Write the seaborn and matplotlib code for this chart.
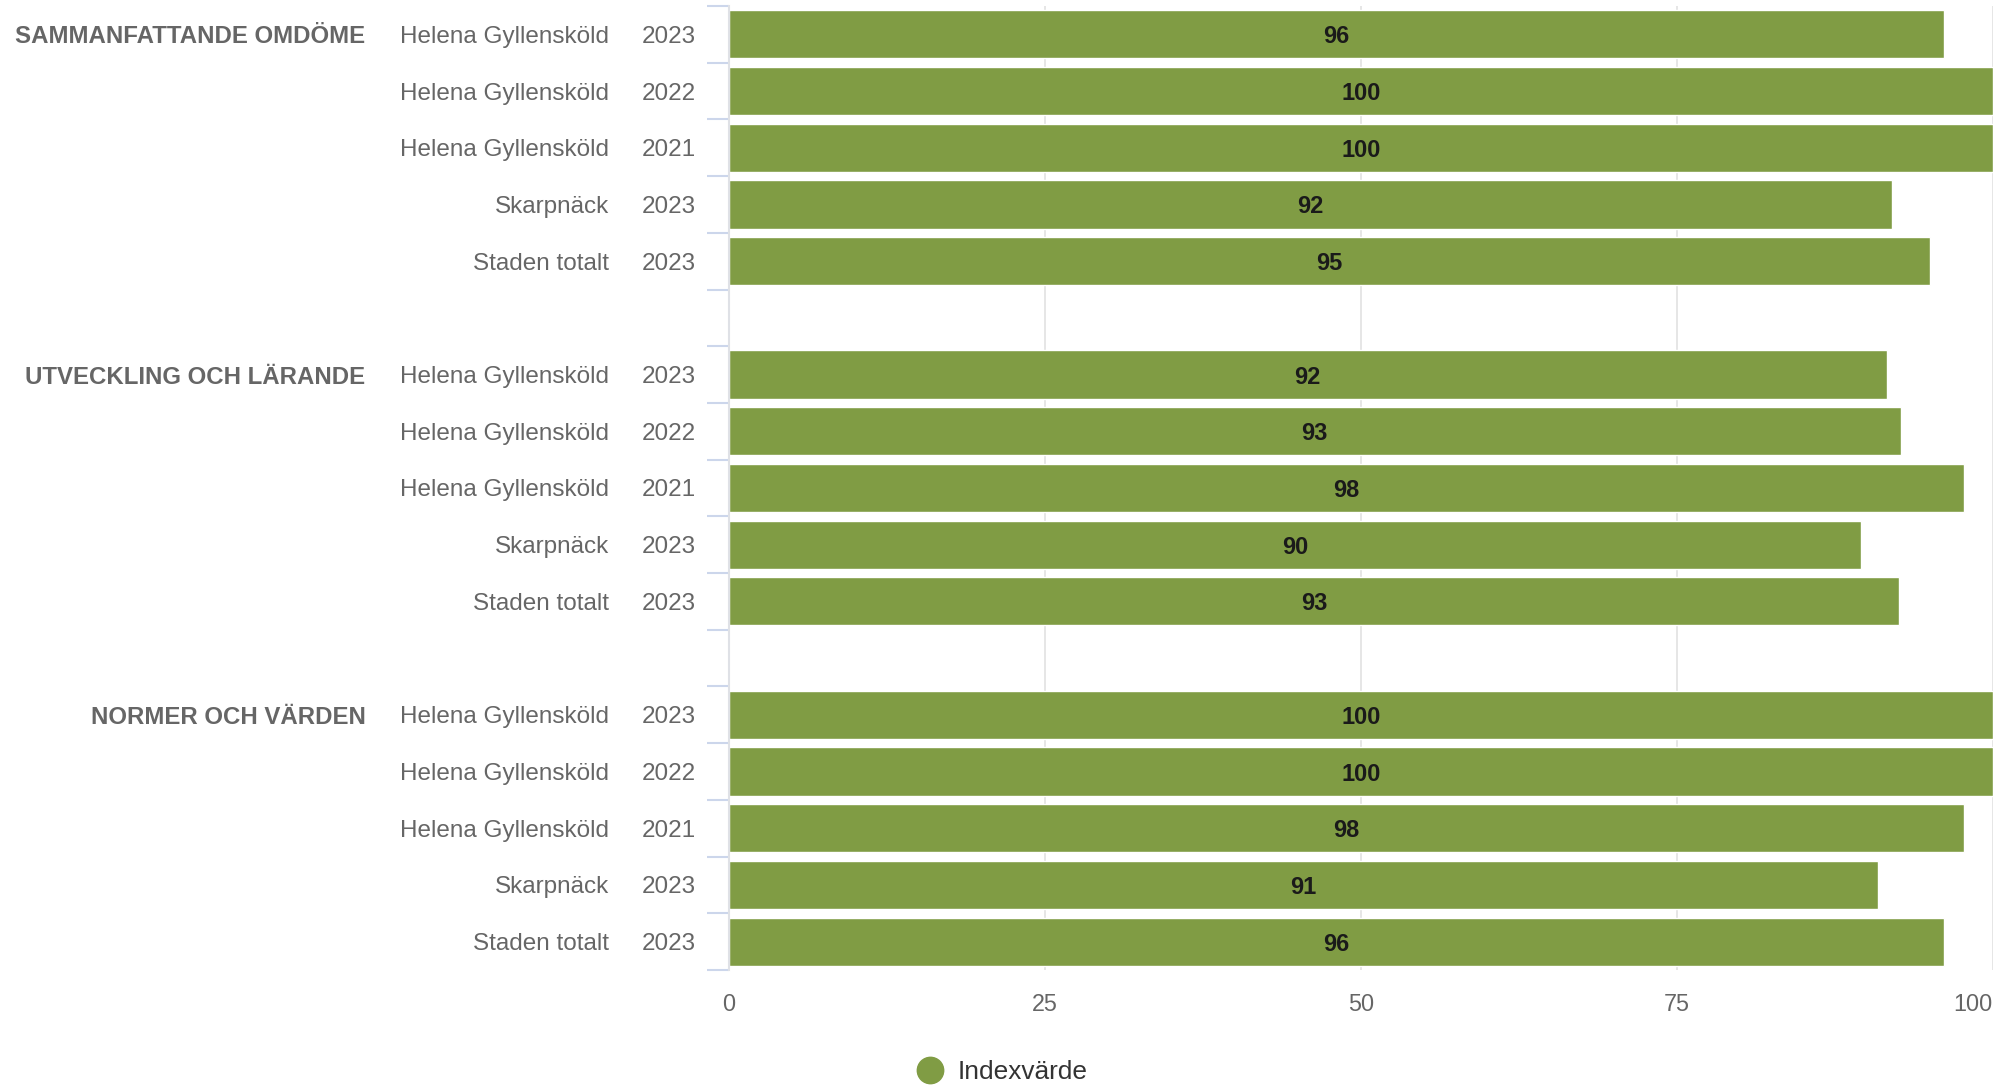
import numpy as np
import pandas as pd
import matplotlib
matplotlib.use("Agg")
import matplotlib.pyplot as plt
from matplotlib.lines import Line2D
import seaborn as sns

groups = ["SAMMANFATTANDE OMDÖME", "UTVECKLING OCH LÄRANDE", "NORMER OCH VÄRDEN"]
names = ["Helena Gyllensköld", "Helena Gyllensköld", "Helena Gyllensköld", "Skarpnäck", "Staden totalt"]
years = ["2023", "2022", "2021", "2023", "2023"]
values_sammanfattande = [96.1, 100, 100, 92.0, 95.0]
values_utveckling = [91.6, 92.7, 97.7, 89.6, 92.6]
values_normer = [100, 100, 97.7, 90.9, 96.1]
series_name = "Indexvärde"

bar_color = "#809c44"
text_gray = "#666666"

sns.set_style("white")
plt.rcParams["font.family"] = ["Liberation Sans", "DejaVu Sans"]

# build rows, with an empty spacer row between groups
rows = []
order = []
all_values = [values_sammanfattande, values_utveckling, values_normer]
for g, (grp, vals) in enumerate(zip(groups, all_values)):
    for i in range(len(names)):
        key = f"{g}-{i}"
        order.append(key)
        rows.append({"row": key, "group": grp if i == 0 else "", "name": names[i],
                     "year": years[i], "value": vals[i]})
    if g < len(groups) - 1:
        order.append(f"gap{g}")
df = pd.DataFrame(rows)

fig = plt.figure(figsize=(20.13, 10.89), dpi=100)
ax = fig.add_axes([0.3621, 0.1093, 0.6279, 0.8852])

sns.barplot(data=df, x="value", y="row", order=order, color=bar_color,
            width=0.85, orient="h", saturation=1, edgecolor="white",
            linewidth=1, ax=ax)

ax.set_xlim(0, 100)
ax.set_ylim(len(order) - 0.5, -0.5)
ax.set_xlabel("")
ax.set_ylabel("")

# value labels in the middle of the bars
cont = ax.containers[0]
labels = [f"{v:.0f}" for v in df["value"]]
txts = ax.bar_label(cont, labels=labels, label_type="center", fontsize=17,
                    fontweight="bold", color="#1a1a1a", padding=0)
for t in txts:
    t.set_va("center_baseline")

# y ticks at the category boundaries, labels drawn as text
ax.set_yticks(np.arange(-0.5, len(order), 1))
ax.set_yticklabels([])
ax.tick_params(axis="y", length=16, width=1.5, color="#ccd6eb", left=True)

trans = ax.get_yaxis_transform()
for _, r in df.iterrows():
    y = order.index(r["row"])
    ax.text(-0.0265, y, r["year"], transform=trans, ha="right", va="center_baseline",
            fontsize=17.5, color=text_gray)
    ax.text(-0.0946, y, r["name"], transform=trans, ha="right", va="center_baseline",
            fontsize=17.5, color=text_gray)
    if r["group"]:
        ax.text(-0.2876, y, r["group"], transform=trans, ha="right", va="center_baseline",
                fontsize=17.3, fontweight="bold", color=text_gray)

# value axis
ax.set_xticks([0, 25, 50, 75, 100])
ax.set_xticklabels(["0", "25", "50", "75", "100"])
ax.tick_params(axis="x", length=0, pad=16.5, labelsize=16.8, labelcolor=text_gray)
ax.get_xticklabels()[-1].set_horizontalalignment("right")
ax.xaxis.grid(True, color="#e6e6e6", linewidth=1.4)
ax.set_axisbelow(True)

for s in ["top", "right", "bottom"]:
    ax.spines[s].set_visible(False)
ax.spines["left"].set_color("#dfe1e6")
ax.spines["left"].set_linewidth(1.5)

handle = Line2D([], [], marker="o", linestyle="none", markersize=19,
                markerfacecolor=bar_color, markeredgecolor=bar_color)
fig.legend([handle], [series_name], loc="center", bbox_to_anchor=(0.4945, 1 - 1072 / 1089),
           frameon=False, fontsize=18.9, labelcolor="#333333", handletextpad=0.05,
           borderaxespad=0)

fig.savefig("out.png", dpi=100)
